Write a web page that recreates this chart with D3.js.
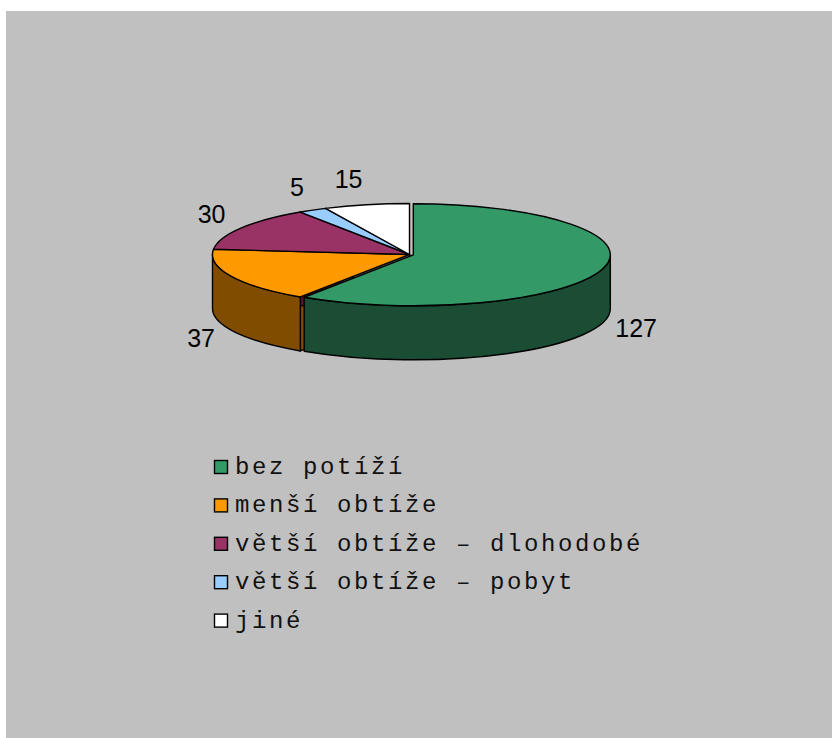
<!DOCTYPE html>
<html>
<head>
<meta charset="utf-8">
<script src="https://cdn.jsdelivr.net/npm/d3@7"></script>
<style>
  html, body { margin: 0; padding: 0; background: #ffffff; }
  svg { display: block; }
</style>
</head>
<body>
<svg id="chart" width="832" height="738"></svg>
<script>
// Survey answers: category names, counts and slice colours
const categories = ["bez potíží", "menší obtíže", "větší obtíže – dlohodobé", "větší obtíže – pobyt", "jiné"];
const counts = [127, 37, 30, 5, 15];
const topColors = ["#339966", "#FF9900", "#993366", "#99CCFF", "#FFFFFF"];
const exploded = [true, false, false, false, false];

const svg = d3.select("#chart");

// Grey chart area
svg.append("rect")
  .attr("x", 6).attr("y", 11)
  .attr("width", 826).attr("height", 727)
  .attr("fill", "#C0C0C0");

// 3D pie geometry (orthographic tilt)
const cx = 409.5, cy = 254.5, rx = 197, ry = 51, depth = 54, explodeBy = 4;

const pie = d3.pie().sort(null).value(d => d.value).startAngle(0).endAngle(2 * Math.PI);
const arcs = pie(categories.map((c, i) => ({ name: c, value: counts[i], color: topColors[i], explode: exploded[i] })));

// Offset of a slice pulled out from the centre
arcs.forEach(a => {
  const mid = (a.startAngle + a.endAngle) / 2;
  a.ox = a.data.explode ? explodeBy * Math.sin(mid) : 0;
  a.oy = a.data.explode ? -explodeBy * Math.cos(mid) * ry / rx : 0;
  a.mid = mid;
});

const pt = (a, ang, dz = 0) => [cx + a.ox + rx * Math.sin(ang), cy + a.oy - ry * Math.cos(ang) + dz];
const ctr = (a, dz = 0) => [cx + a.ox, cy + a.oy + dz];
const sideColor = c => { const k = d3.rgb(c); return d3.rgb(k.r / 2, k.g / 2, k.b / 2).formatHex(); };

const g = svg.append("g")
  .attr("stroke", "#000")
  .attr("stroke-width", 1.4)
  .attr("stroke-linejoin", "round");

// Radial cut faces that turn towards the viewer
const faces = [];
arcs.forEach(a => {
  if (Math.sin(a.startAngle) < -1e-6) faces.push({ a, ang: a.startAngle });
  if (Math.sin(a.endAngle) > 1e-6) faces.push({ a, ang: a.endAngle });
});
faces.forEach(f => {
  const c0 = ctr(f.a), p0 = pt(f.a, f.ang), p1 = pt(f.a, f.ang, depth), c1 = ctr(f.a, depth);
  g.append("path")
    .attr("d", `M${c0}L${p0}L${p1}L${c1}Z`)
    .attr("fill", sideColor(f.a.data.color));
});

// Outer walls on the front half of the ellipse
arcs.forEach(a => {
  const s = Math.max(a.startAngle, Math.PI / 2);
  const e = Math.min(a.endAngle, 3 * Math.PI / 2);
  if (e <= s) return;
  const p0 = pt(a, s), p1 = pt(a, e), q1 = pt(a, e, depth), q0 = pt(a, s, depth);
  g.append("path")
    .attr("d", `M${p0}A${rx},${ry} 0 0 1 ${p1}L${q1}A${rx},${ry} 0 0 0 ${q0}Z`)
    .attr("fill", sideColor(a.data.color));
});

// Top faces
arcs.forEach(a => {
  const c = ctr(a), p0 = pt(a, a.startAngle), p1 = pt(a, a.endAngle);
  const large = (a.endAngle - a.startAngle) > Math.PI ? 1 : 0;
  g.append("path")
    .attr("d", `M${c}L${p0}A${rx},${ry} 0 ${large} 1 ${p1}Z`)
    .attr("fill", a.data.color);
});

// Value labels outside the slices
const labelR = 215, labelRy = 75;
svg.append("g").selectAll("text")
  .data(arcs)
  .join("text")
  .attr("x", a => cx + labelR * Math.sin(a.mid))
  .attr("y", a => cy - 2 - labelRy * Math.cos(a.mid) + (Math.cos(a.mid) < 0 ? depth : 0))
  .attr("dy", "0.36em")
  .attr("text-anchor", a => Math.sin(a.mid) >= 0 ? "start" : "end")
  .attr("font-family", "'Liberation Sans', Arial, sans-serif")
  .attr("font-size", 25)
  .attr("fill", "#000")
  .text(a => a.data.value);

// Legend
const legendX = 214, legendY = 467, rowH = 38.4, box = 13;
const leg = svg.append("g").selectAll("g")
  .data(arcs)
  .join("g")
  .attr("transform", (a, i) => `translate(${legendX},${legendY + i * rowH})`);
leg.append("rect")
  .attr("x", 0.5).attr("y", -box / 2)
  .attr("width", box).attr("height", box)
  .attr("fill", a => a.data.color)
  .attr("stroke", "#000").attr("stroke-width", 1.4);
leg.append("text")
  .attr("x", 21).attr("y", 7)
  .attr("font-family", "'Liberation Mono', 'Courier New', monospace")
  .attr("font-size", 24)
  .attr("letter-spacing", 2.6)
  .attr("fill", "#111")
  .text(a => a.data.name);
</script>
</body>
</html>
